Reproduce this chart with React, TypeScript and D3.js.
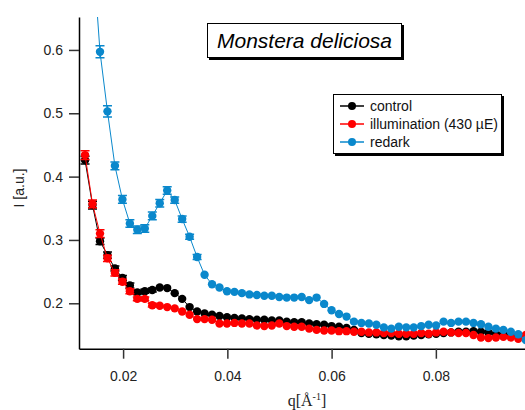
import React, { useRef, useEffect } from "react"
import * as d3 from "d3"

// q values (1/Å), same grid for all three curves
const qValues = [
  0.0127, 0.01413, 0.01557, 0.017, 0.01843, 0.01987, 0.0213, 0.02273, 0.02416, 0.0256,
  0.02703, 0.02846, 0.0299, 0.03133, 0.03276, 0.0342, 0.03563, 0.03706, 0.03849, 0.03993,
  0.04136, 0.04279, 0.04423, 0.04566, 0.04709, 0.04853, 0.04996, 0.05139, 0.05282, 0.05426,
  0.05569, 0.05712, 0.05856, 0.05999, 0.06142, 0.06286, 0.06429, 0.06572, 0.06715, 0.06859,
  0.07002, 0.07145, 0.07289, 0.07432, 0.07575, 0.07719, 0.07862, 0.08005, 0.08148, 0.08292,
  0.08435, 0.08578, 0.08722, 0.08865, 0.09008, 0.09152, 0.09295, 0.09438, 0.09581, 0.09725,
]

const controlI = [
  0.426, 0.355, 0.298, 0.276, 0.255, 0.24, 0.228, 0.217, 0.219, 0.221,
  0.225, 0.224, 0.216, 0.207, 0.194, 0.187, 0.184, 0.182, 0.18, 0.178,
  0.177, 0.176, 0.175, 0.174, 0.174, 0.173, 0.173, 0.171, 0.17, 0.17,
  0.168, 0.167, 0.166, 0.164, 0.163, 0.161, 0.158, 0.153, 0.152, 0.151,
  0.15, 0.149, 0.148, 0.148, 0.149, 0.15, 0.151, 0.152, 0.153, 0.154,
  0.155, 0.155, 0.156, 0.155, 0.154, 0.152, 0.151, 0.149, 0.148, 0.147,
]

const illumI = [
  0.434, 0.357, 0.31, 0.271, 0.248, 0.234, 0.219, 0.207, 0.207, 0.197,
  0.196, 0.194, 0.192, 0.187, 0.182, 0.175, 0.175, 0.174, 0.168, 0.168,
  0.169, 0.168, 0.168, 0.165, 0.164, 0.165, 0.168, 0.164, 0.163, 0.163,
  0.16, 0.158, 0.157, 0.157, 0.156, 0.156, 0.155, 0.155, 0.154, 0.154,
  0.153, 0.153, 0.152, 0.152, 0.152, 0.153, 0.152, 0.154, 0.155, 0.154,
  0.153, 0.153, 0.15, 0.146, 0.145, 0.146, 0.147, 0.146, 0.144, 0.15,
]

const redarkI = [
  0.95, 0.764, 0.597, 0.503, 0.417, 0.364, 0.326, 0.316, 0.318, 0.338,
  0.358, 0.378, 0.363, 0.333, 0.305, 0.273, 0.245, 0.23, 0.225, 0.219,
  0.218, 0.216, 0.214, 0.213, 0.212, 0.212, 0.21, 0.209, 0.209, 0.21,
  0.205, 0.209, 0.199, 0.189, 0.183, 0.179, 0.171, 0.169, 0.168, 0.166,
  0.162, 0.16, 0.163, 0.162, 0.162, 0.164, 0.166, 0.165, 0.171, 0.169,
  0.171, 0.171, 0.169, 0.167, 0.163, 0.16, 0.158, 0.155, 0.151, 0.142,
]

// error bars, only noticeable at low q
const controlErr = [0.006, 0.006, 0.005, 0.005, 0.004, 0.004, 0.004, 0.003, 0.003, 0.003]
const illumErr = [0.007, 0.006, 0.006, 0.005, 0.005, 0.004, 0.004, 0.003, 0.003, 0.003]
const redarkErr = [0.014, 0.012, 0.0095, 0.009, 0.006, 0.006, 0.006, 0.006, 0.006, 0.006, 0.006, 0.006, 0.005, 0.005, 0.004, 0.004]

const seriesNames = ["control", "illumination (430 µE)", "redark"]
const seriesColors = ["#000000", "#ff0000", "#0a88cc"]
const xTicks = [0.02, 0.04, 0.06, 0.08]
const yTicks = [0.2, 0.3, 0.4, 0.5, 0.6]

const App = () => {
  const ref = useRef<SVGSVGElement>(null)
  const width = 525
  const height = 410

  useEffect(() => {
    const svg = d3.select(ref.current)
    svg.selectAll("*").remove()

    const left = 79, right = 525, top = 17, bottom = 348.7
    const x = d3.scaleLinear().domain([0.01154, 0.0971]).range([left, right])
    const y = d3.scaleLinear().domain([0.1283, 0.652]).range([bottom, top])

    svg.append("defs").append("clipPath").attr("id", "plotclip")
      .append("rect").attr("x", left).attr("y", top).attr("width", right - left).attr("height", bottom - top)

    const plot = svg.append("g").attr("clip-path", "url(#plotclip)")
    const series = [
      { vals: controlI, err: controlErr },
      { vals: illumI, err: illumErr },
      { vals: redarkI, err: redarkErr },
    ]
    const line = d3.line<number>().x((d, i) => x(qValues[i])).y(d => y(d))

    series.forEach((s, k) => {
      const col = seriesColors[k]
      const g = plot.append("g")
      g.append("path").attr("d", line(s.vals)).attr("fill", "none").attr("stroke", col).attr("stroke-width", 1)
      // error bars with caps
      s.err.forEach((e, i) => {
        const cx = x(qValues[i])
        const y1 = y(s.vals[i] + e), y2 = y(s.vals[i] - e)
        g.append("line").attr("x1", cx).attr("x2", cx).attr("y1", y1).attr("y2", y2).attr("stroke", col).attr("stroke-width", 1.5)
        g.append("line").attr("x1", cx - 4.5).attr("x2", cx + 4.5).attr("y1", y1).attr("y2", y1).attr("stroke", col).attr("stroke-width", 1.5)
        g.append("line").attr("x1", cx - 4.5).attr("x2", cx + 4.5).attr("y1", y2).attr("y2", y2).attr("stroke", col).attr("stroke-width", 1.5)
      })
      g.selectAll("circle").data(s.vals).enter().append("circle")
        .attr("cx", (d, i) => x(qValues[i]))
        .attr("cy", d => y(d))
        .attr("r", 4.2)
        .attr("fill", col)
    })

    // axes
    const xAxis = svg.append("g").attr("transform", `translate(0,${bottom})`)
      .call(d3.axisBottom(x).tickValues(xTicks).tickFormat(d3.format(".2f")).tickSize(10).tickSizeOuter(0))
    const yAxis = svg.append("g").attr("transform", `translate(${left},0)`)
      .call(d3.axisLeft(y).tickValues(yTicks).tickFormat(d3.format(".1f")).tickSize(10).tickSizeOuter(0))
    ;[xAxis, yAxis].forEach(a => {
      a.select(".domain").attr("stroke", "#000").attr("stroke-width", 1.5)
      a.selectAll(".tick line").attr("stroke", "#333").attr("stroke-width", 1.5)
      a.selectAll(".tick text").attr("fill", "#222").style("font-family", "Liberation Sans, Arial, sans-serif").style("font-size", "14px")
    })
    xAxis.selectAll(".tick text").attr("dy", "0").attr("y", 32)
    yAxis.selectAll(".tick text").attr("x", -16)

    // axis titles
    svg.append("text")
      .attr("transform", `translate(24,188) rotate(-90)`)
      .attr("text-anchor", "middle")
      .attr("fill", "#222")
      .style("font-family", "Liberation Sans, Arial, sans-serif")
      .style("font-size", "14px")
      .text("I [a.u.]")
    const xt = svg.append("text")
      .attr("x", 307).attr("y", 406)
      .attr("text-anchor", "middle")
      .attr("fill", "#222")
      .style("font-family", "Liberation Serif, Times New Roman, serif")
      .style("font-size", "16px")
    xt.append("tspan").text("q[Å")
    xt.append("tspan").attr("dy", -6).style("font-size", "10px").text("-1")
    xt.append("tspan").attr("dy", 6).text("]")

    // title box
    const tb = svg.append("g")
    tb.append("rect").attr("x", 209).attr("y", 25).attr("width", 195).attr("height", 35).attr("fill", "#000")
    tb.append("rect").attr("x", 207.5).attr("y", 23.5).attr("width", 194).attr("height", 34).attr("fill", "#fff").attr("stroke", "#000").attr("stroke-width", 1)
    tb.append("text").attr("x", 304.5).attr("y", 48).attr("text-anchor", "middle")
      .style("font-family", "Liberation Sans, Arial, sans-serif").style("font-style", "italic").style("font-size", "21px")
      .text("Monstera deliciosa")

    // legend
    const lg = svg.append("g")
    lg.append("rect").attr("x", 335).attr("y", 96).attr("width", 169).attr("height", 60).attr("fill", "#000")
    lg.append("rect").attr("x", 333.5).attr("y", 94.5).attr("width", 168).attr("height", 59).attr("fill", "#fff").attr("stroke", "#000").attr("stroke-width", 1)
    seriesNames.forEach((name, k) => {
      const yy = 106 + k * 18
      lg.append("line").attr("x1", 340).attr("x2", 364).attr("y1", yy).attr("y2", yy).attr("stroke", seriesColors[k]).attr("stroke-width", 1.5)
      lg.append("circle").attr("cx", 352).attr("cy", yy).attr("r", 4).attr("fill", seriesColors[k])
      lg.append("text").attr("x", 370).attr("y", yy + 5)
        .style("font-family", "Liberation Sans, Arial, sans-serif").style("font-size", "14px").attr("fill", "#111")
        .text(name)
    })
  }, [])

  return (
    <svg ref={ref} width={width} height={height} style={{ position: "absolute", left: 0, top: 0, background: "#fff" }}>
    </svg>
  )
}

export default App
